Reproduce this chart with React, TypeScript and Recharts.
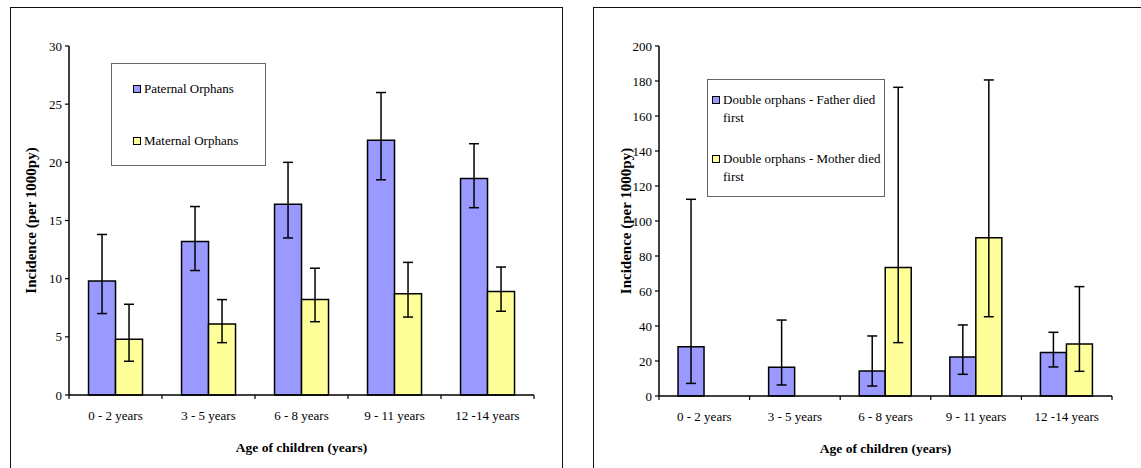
import React from 'react';
import { BarChart, Bar, XAxis, YAxis, ErrorBar, Legend, Label } from 'recharts';

const ageGroups = ['0 - 2 years', '3 - 5 years', '6 - 8 years', '9 - 11 years', '12 -14 years'];

// single orphans: incidence per 1000py with lower / upper CI
const paternal = [9.8, 13.2, 16.4, 21.9, 18.6];
const paternalLow = [7.0, 10.7, 13.5, 18.5, 16.1];
const paternalHigh = [13.8, 16.2, 20.0, 26.0, 21.6];
const maternal = [4.8, 6.1, 8.2, 8.7, 8.9];
const maternalLow = [2.9, 4.5, 6.3, 6.7, 7.2];
const maternalHigh = [7.8, 8.2, 10.9, 11.4, 11.0];

// double orphans
const fatherFirst = [28.2, 16.4, 14.3, 22.3, 24.8];
const fatherFirstLow = [7.2, 6.3, 5.7, 12.4, 16.6];
const fatherFirstHigh = [112.4, 43.4, 34.3, 40.6, 36.4];
const motherFirst = [null, null, 73.5, 90.5, 29.7];
const motherFirstLow = [null, null, 30.5, 45.3, 14.1];
const motherFirstHigh = [null, null, 176.4, 180.6, 62.5];

const singleTicks = [0, 5, 10, 15, 20, 25, 30];
const doubleTicks = [0, 20, 40, 60, 80, 100, 120, 140, 160, 180, 200];

const BLUE = '#9999FF';
const YELLOW = '#FFFF99';
const FONT = '"Liberation Serif"';
const X_TICK_SIZE = 4;
const X_TICK_MARGIN = 12;

type Num = number | null;

const buildRows = (a: Num[], aLow: Num[], aHigh: Num[], b: Num[], bLow: Num[], bHigh: Num[]) =>
  ageGroups.map((age, i) => ({
    age,
    a: a[i],
    aErr: a[i] == null ? null : [(a[i] as number) - (aLow[i] as number), (aHigh[i] as number) - (a[i] as number)],
    b: b[i],
    bErr: b[i] == null ? null : [(b[i] as number) - (bLow[i] as number), (bHigh[i] as number) - (b[i] as number)],
  }));

const singleRows = buildRows(paternal, paternalLow, paternalHigh, maternal, maternalLow, maternalHigh);
const doubleRows = buildRows(fatherFirst, fatherFirstLow, fatherFirstHigh, motherFirst, motherFirstLow, motherFirstHigh);

// category tick: label in the middle, tick marks on the band edges
const AgeTick = (props: any) => {
  const { x, y, payload, index, visibleTicksCount } = props;
  const half = payload.offset ?? 0;
  const y0 = y - X_TICK_SIZE - X_TICK_MARGIN;
  const last = index === (visibleTicksCount ?? ageGroups.length) - 1;
  return (
    <g>
      <line x1={x - half} x2={x - half} y1={y0} y2={y0 + X_TICK_SIZE} stroke="#000" strokeWidth={1.2} />
      {last && <line x1={x + half} x2={x + half} y1={y0} y2={y0 + X_TICK_SIZE} stroke="#000" strokeWidth={1.2} />}
      <text x={x} y={y} dy="0.71em" textAnchor="middle" fontSize={13} fill="#000" style={{ fontFamily: FONT }}>
        {payload.value}
      </text>
    </g>
  );
};

const yTitle = (text: string, offset: number) => (props: any) => {
  const vb = props.viewBox;
  const cx = vb.x + offset;
  const cy = vb.y + vb.height / 2;
  return (
    <text x={cx} y={cy} transform={`rotate(-90, ${cx}, ${cy})`} textAnchor="middle" dominantBaseline="central"
      fontSize={15} fontWeight="bold" fill="#000" style={{ fontFamily: FONT }}>
      {text}
    </text>
  );
};

interface LegendCfg {
  left: number; top: number; width: number; height: number;
  padTop: number; padLeft: number; gap: number; textWidth: number;
}

const LegendBox = ({ names, cfg }: { names: string[]; cfg: LegendCfg }) => (
  <div style={{
    width: cfg.width, height: cfg.height, boxSizing: 'border-box', border: '1px solid #666',
    background: '#fff', paddingTop: cfg.padTop, paddingLeft: cfg.padLeft, fontFamily: FONT,
  }}>
    {names.map((name, i) => (
      <div key={name} style={{ display: 'flex', alignItems: 'flex-start', marginTop: i ? cfg.gap : 0 }}>
        <span style={{
          width: 6, height: 6, marginTop: 5, marginRight: 3, flexShrink: 0,
          background: i ? YELLOW : BLUE, border: '1.2px solid #000',
        }} />
        <span style={{ width: cfg.textWidth, fontSize: 13, lineHeight: '18px', color: '#000', fontFamily: FONT }}>{name}</span>
      </div>
    ))}
  </div>
);

interface ChartProps {
  rows: any[];
  names: string[];
  ticks: number[];
  width: number;
  margin: { top: number; right: number; bottom: number; left: number };
  legend: LegendCfg;
  titleOffset: number;
}

const OrphanChart = ({ rows, names, ticks, width, margin, legend, titleOffset }: ChartProps) => (
  <BarChart width={width} height={468} data={rows} margin={margin} barCategoryGap="21%" barGap={0}
    style={{ fontFamily: FONT }}>
    <XAxis xAxisId="top" dataKey="age" orientation="top" height={0} tick={false} tickLine={false}
      axisLine={{ stroke: '#222', strokeWidth: 1 }} />
    <YAxis yAxisId="right" orientation="right" width={0} tick={false} tickLine={false}
      domain={[0, ticks[ticks.length - 1]]} axisLine={{ stroke: '#888', strokeWidth: 2 }} />
    <XAxis dataKey="age" height={60} tickLine={false} tickSize={X_TICK_SIZE} tickMargin={X_TICK_MARGIN}
      interval={0} tick={<AgeTick />} axisLine={{ stroke: '#000', strokeWidth: 1.5 }}>
      <Label value="Age of children (years)" position="insideBottom" offset={3}
        style={{ fontSize: 13.5, fontWeight: 'bold', fontFamily: FONT, fill: '#000' }} />
    </XAxis>
    <YAxis width={60} domain={[0, ticks[ticks.length - 1]]} ticks={ticks} interval={0}
      tickSize={4} tickMargin={3} tick={{ fontSize: 13, fill: '#000', style: { fontFamily: FONT } }}
      tickLine={{ stroke: '#000', strokeWidth: 1.2 }} axisLine={{ stroke: '#000', strokeWidth: 1.5 }}>
      <Label content={yTitle('Incidence (per 1000py)', titleOffset)} />
    </YAxis>
    <Legend layout="vertical" align="center" verticalAlign="middle"
      wrapperStyle={{ left: legend.left, top: legend.top, width: legend.width, height: legend.height }}
      content={() => <LegendBox names={names} cfg={legend} />} />
    <Bar dataKey="a" name={names[0]} fill={BLUE} stroke="#000" strokeWidth={1.5} isAnimationActive={false}>
      <ErrorBar dataKey="aErr" width={5} stroke="#000" strokeWidth={1.5} />
    </Bar>
    <Bar dataKey="b" name={names[1]} fill={YELLOW} stroke="#000" strokeWidth={1.5} isAnimationActive={false}>
      <ErrorBar dataKey="bErr" width={5} stroke="#000" strokeWidth={1.5} />
    </Bar>
  </BarChart>
);

export default function App() {
  return (
    <div style={{ position: 'absolute', left: 0, top: 0, width: 1141, height: 468, overflow: 'hidden', background: '#fff', fontFamily: FONT }}>
      <div style={{ position: 'absolute', left: 10, top: 7, width: 553, height: 480, border: '1.5px solid #111', boxSizing: 'border-box' }} />
      <div style={{ position: 'absolute', left: 593, top: 7, width: 580, height: 480, border: '1.5px solid #111', boxSizing: 'border-box' }} />
      <div style={{ position: 'absolute', left: 0, top: 0 }}>
        <OrphanChart
          rows={singleRows}
          names={['Paternal Orphans', 'Maternal Orphans']}
          ticks={singleTicks}
          width={580}
          margin={{ top: 46, right: 46, bottom: 13, left: 9 }}
          legend={{ left: 111, top: 63, width: 155, height: 103, padTop: 16, padLeft: 21, gap: 34, textWidth: 120 }}
          titleOffset={22}
        />
      </div>
      <div style={{ position: 'absolute', left: 590, top: 0 }}>
        <OrphanChart
          rows={doubleRows}
          names={['Double orphans - Father died first', 'Double orphans - Mother died first']}
          ticks={doubleTicks}
          width={551}
          margin={{ top: 46, right: 29, bottom: 12, left: 9 }}
          legend={{ left: 117, top: 79, width: 178, height: 118, padTop: 11, padLeft: 4, gap: 23, textWidth: 160 }}
          titleOffset={27}
        />
      </div>
    </div>
  );
}
